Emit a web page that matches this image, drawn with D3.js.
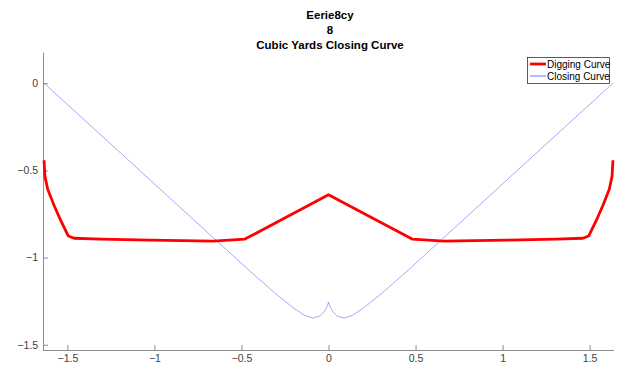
<!DOCTYPE html>
<html>
<head>
<meta charset="utf-8">
<script src="https://cdn.jsdelivr.net/npm/d3@7"></script>
<style>
  body { margin: 0; background: #fff; }
  text { font-family: "Liberation Sans", Arial, sans-serif; }
</style>
</head>
<body>
<svg id="chart" width="619" height="365"></svg>
<script>
// digging curve (red)
let digX = [-1.634, -1.629, -1.613, -1.575, -1.537, -1.495, -1.461, -1.309, -1.023, -0.663, -0.48, 0,
            0.48, 0.663, 1.023, 1.309, 1.461, 1.495, 1.537, 1.575, 1.613, 1.629, 1.634];
let digY = [-0.442, -0.533, -0.608, -0.704, -0.790, -0.876, -0.889, -0.894, -0.900, -0.906, -0.894, -0.640,
            -0.894, -0.906, -0.900, -0.894, -0.889, -0.876, -0.790, -0.704, -0.608, -0.533, -0.442];

// closing curve (blue)
let closeX = [-1.634, -1.2, -0.8, -0.45, -0.3, -0.2, -0.14, -0.09, -0.05, -0.025, -0.01, 0,
              0.01, 0.025, 0.05, 0.09, 0.14, 0.2, 0.3, 0.45, 0.8, 1.2, 1.634];
let closeY = [0, -0.395, -0.760, -1.079, -1.21, -1.29, -1.33, -1.347, -1.335, -1.31, -1.285, -1.256,
              -1.285, -1.31, -1.335, -1.347, -1.33, -1.29, -1.21, -1.079, -0.760, -0.395, 0];

let xTicks = [-1.5, -1, -0.5, 0, 0.5, 1, 1.5];
let yTicks = [-1.5, -1, -0.5, 0];
let titleLines = ["Eerie8cy", "8", "Cubic Yards Closing Curve"];

let svg = d3.select("#chart");

let x = d3.scaleLinear().domain([-1.64, 1.64]).range([43, 614]);
let y = d3.scaleLinear().domain([-1.53, 0.175]).range([350, 52.7]);

let axisColor = "#8c8c8c";
let labelColor = "#404040";

// x axis, ticks inside
let xAxis = svg.append("g")
    .attr("transform", "translate(0," + y.range()[0] + ")")
    .call(d3.axisBottom(x).tickValues(xTicks).tickSize(-5).tickPadding(4.5)
        .tickFormat(d => d3.format("")(d)));
xAxis.select(".domain").attr("stroke", axisColor).attr("d", "M" + x.range()[0] + ",0.5H" + x.range()[1]);
xAxis.selectAll(".tick line").attr("stroke", axisColor);
xAxis.selectAll(".tick text").attr("fill", labelColor).style("font-size", "10.5px")
    .attr("font-family", null);

// y axis, ticks inside
let yAxis = svg.append("g")
    .attr("transform", "translate(" + x.range()[0] + ",0)")
    .call(d3.axisLeft(y).tickValues(yTicks).tickSize(-5).tickPadding(5)
        .tickFormat(d => d3.format("")(d)));
yAxis.select(".domain").attr("stroke", axisColor).attr("d", "M0.5," + y.range()[1] + "V" + y.range()[0]);
yAxis.selectAll(".tick line").attr("stroke", axisColor);
yAxis.selectAll(".tick text").attr("fill", labelColor).style("font-size", "10.5px")
    .attr("font-family", null);

let line = d3.line().x(d => x(d[0])).y(d => y(d[1]));

svg.append("path")
    .datum(d3.zip(closeX, closeY))
    .attr("d", line)
    .attr("fill", "none")
    .attr("stroke", "#0000ff")
    .attr("stroke-opacity", 0.5)
    .attr("stroke-width", 0.7);

svg.append("path")
    .datum(d3.zip(digX, digY))
    .attr("d", line)
    .attr("fill", "none")
    .attr("stroke", "#ff0000")
    .attr("stroke-width", 2.8)
    .attr("stroke-linejoin", "round");

// title
svg.append("g").selectAll("text")
    .data(titleLines)
    .join("text")
    .attr("x", 330)
    .attr("y", (d, i) => 19 + i * 15)
    .attr("text-anchor", "middle")
    .attr("font-weight", "bold")
    .style("font-size", "11.5px")
    .attr("fill", "#000")
    .text(d => d);

// legend
let legend = svg.append("g");
legend.append("rect")
    .attr("x", 527.5).attr("y", 57.5)
    .attr("width", 82).attr("height", 26)
    .attr("fill", "#fff")
    .attr("stroke", "#333")
    .attr("stroke-width", 0.8);

let legendItems = [
    { name: "Digging Curve", color: "#ff0000", width: 2.8, opacity: 1 },
    { name: "Closing Curve", color: "#0000ff", width: 0.8, opacity: 0.7 }
];
legendItems.forEach(function(item, i) {
    let ly = 64 + i * 12;
    legend.append("line")
        .attr("x1", 530).attr("x2", 546)
        .attr("y1", ly).attr("y2", ly)
        .attr("stroke", item.color)
        .attr("stroke-opacity", item.opacity)
        .attr("stroke-width", item.width);
    legend.append("text")
        .attr("x", 547).attr("y", ly + 3.5)
        .style("font-size", "10px")
        .attr("fill", "#000")
        .text(item.name);
});
</script>
</body>
</html>
